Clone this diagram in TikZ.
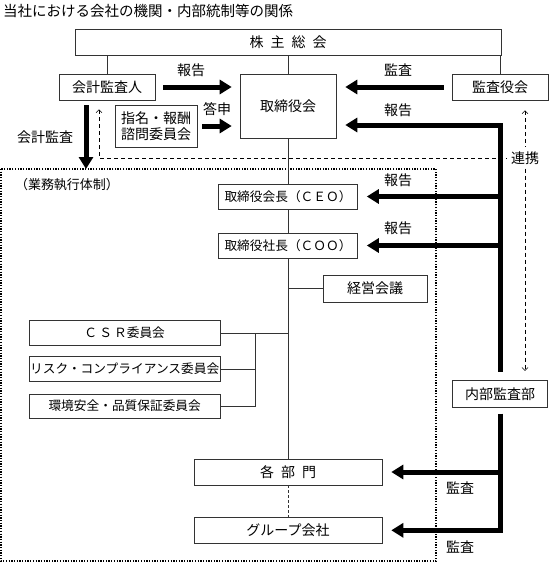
\documentclass[tikz,border=0pt]{standalone}
\usepackage{fontspec}
\setmainfont{Noto Sans CJK JP}
\usetikzlibrary{arrows.meta}
\tikzset{
  box/.style={draw=black!80, line width=0.6pt, inner sep=0pt, font=\fontsize{14pt}{16pt}\selectfont},
  widebox/.style={box, font=\fontsize{12.7pt}{15pt}\selectfont},
  lbl/.style={inner sep=0pt, font=\fontsize{14pt}{16pt}\selectfont},
  conn/.style={draw=black!80, line width=0.6pt},
  bigarrow/.style={line width=5pt, -{Triangle[length=12pt,width=14pt]}},
  link/.style={line width=0.6pt, dash pattern=on 4pt off 3pt},
}
\begin{document}
\begin{tikzpicture}[x=1pt, y=-1pt, >={Straight Barb[length=3pt,width=6pt]}]
\useasboundingbox (0,0) rectangle (549,562);
\node[lbl, anchor=west, font=\fontsize{14.5pt}{17pt}\selectfont] (title) at (3,11) {当社における会社の機関・内部統制等の関係};

\node[box, minimum width=426pt, minimum height=26pt] (kabu) at (288,42) {株\enspace 主\enspace 総\enspace 会};
\node[box, minimum width=96pt, minimum height=26pt] (kaikei) at (107,87) {会計監査人};
\node[box, minimum width=96pt, minimum height=64pt] (tori) at (288,106) {取締役会};
\node[box, minimum width=96pt, minimum height=26pt] (kansa) at (500,87) {監査役会};
\node[box, minimum width=82pt, minimum height=42pt, align=center] (shimei) at (156,126) {指名・報酬\\諮問委員会};
\node[widebox, minimum width=139pt, minimum height=25pt] (ceo) at (288,196.5) {取締役会長（ＣＥＯ）};
\node[widebox, minimum width=139pt, minimum height=25pt] (coo) at (288,245.5) {取締役社長（ＣＯＯ）};
\node[box, minimum width=104pt, minimum height=27pt] (keiei) at (375,288.7) {経営会議};
\node[widebox, minimum width=191pt, minimum height=25pt] (csr) at (124.7,333) {Ｃ\,Ｓ\,Ｒ委員会};
\node[widebox, minimum width=191pt, minimum height=25pt] (risk) at (124.7,369) {リスク・コンプライアンス委員会};
\node[widebox, minimum width=191pt, minimum height=24pt] (kankyo) at (124.7,406) {環境安全・品質保証委員会};
\node[box, minimum width=188pt, minimum height=26pt] (bu) at (288,472) {各\enspace 部\enspace 門};
\node[box, minimum width=188pt, minimum height=26pt] (group) at (288,530.3) {グループ会社};
\node[box, minimum width=95pt, minimum height=27pt] (naibu) at (500,393.7) {内部監査部};

\draw[line width=1.3pt, dash pattern=on 1.3pt off 1.4pt] (1,169) rectangle (436,561);
\node[lbl, font=\fontsize{13pt}{15pt}\selectfont] (gyomu) at (67,185) {（業務執行体制）};

\draw[conn] (kabu.south -| kaikei.north) -- (kaikei.north);
\draw[conn] (kabu.south) -- (tori.north);
\draw[conn] (kabu.south -| kansa.north) -- (kansa.north);
\draw[conn] (tori.south) -- (ceo.north);
\draw[conn] (ceo.south) -- (coo.north);
\draw[conn] (coo.south) -- (bu.north);
\draw[conn] (keiei.west) -- (keiei.west -| coo.south);
\coordinate (iinbus) at (255,333);
\draw[conn] (csr.east) -- (csr.east -| coo.south);
\draw[conn] (risk.east) -- (risk.east -| iinbus);
\draw[conn] (kankyo.east) -- (kankyo.east -| iinbus) -- (iinbus);
\draw[conn, dash pattern=on 3pt off 2pt] (bu.south) -- (group.north);

\draw[bigarrow, shorten <=8pt, shorten >=8pt] (kaikei.east) -- (kaikei.east -| tori.west);
\draw[bigarrow, shorten <=8pt, shorten >=9pt] (kansa.west) -- (kansa.west -| tori.east);
\draw[bigarrow, shorten <=5pt, shorten >=8pt] (shimei.east) -- (shimei.east -| tori.west);
\coordinate (kaikeiout) at ([xshift=-21pt]kaikei.south);
\draw[bigarrow, shorten <=5pt] (kaikeiout) -- (kaikeiout |- 0,169);

\coordinate (hokoku) at (500,125);
\draw[bigarrow, shorten <=8pt, shorten >=9pt] (naibu.north) -- (hokoku) -- (hokoku -| tori.east);
\draw[bigarrow, shorten >=9pt] (hokoku |- ceo) -- (ceo.east);
\draw[bigarrow, shorten >=9pt] (hokoku |- coo) -- (coo.east);
\draw[bigarrow, shorten <=6pt, shorten >=9pt] (naibu.south) -- (naibu.south |- group) -- (group.east);
\draw[bigarrow, shorten >=9pt] (naibu.south |- bu) -- (bu.east);

\node[lbl, inner sep=4pt] (renkei) at (525,158) {連携};
\coordinate (kaikeilink) at ([xshift=-8pt]kaikei.south);
\draw[link, <-, shorten <=9pt] (kaikeilink) -- (kaikeilink |- renkei) -- (renkei.west);
\draw[link, <-, shorten <=10pt] ([xshift=25pt]kansa.south) -- (renkei.north);
\draw[link, ->, shorten >=9pt] (renkei.south) -- ([xshift=25pt]naibu.north);

\node[lbl] (hokoku1) at (191,70) {報告};
\node[lbl] (kansa1) at (398,70) {監査};
\node[lbl] (toushin) at (217,109) {答申};
\node[lbl] (hokoku2) at (398,110) {報告};
\node[lbl] (kaikeikansa) at (45,137) {会計監査};
\node[lbl] (hokoku3) at (398,180) {報告};
\node[lbl] (hokoku4) at (398,228) {報告};
\node[lbl] (kansa2) at (460,488) {監査};
\node[lbl] (kansa3) at (460,547) {監査};
\end{tikzpicture}
\end{document}
